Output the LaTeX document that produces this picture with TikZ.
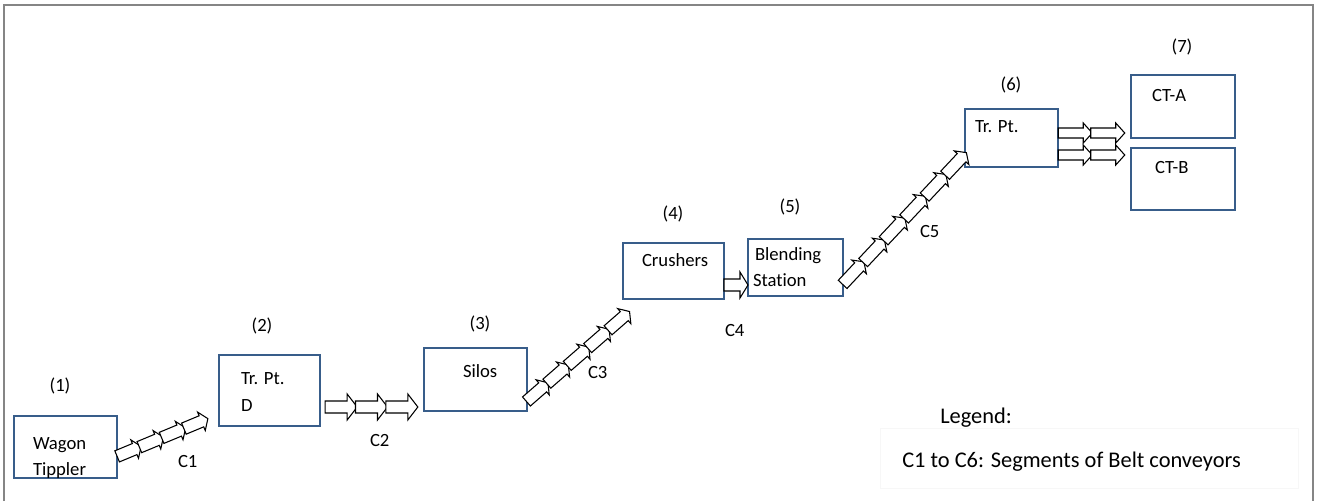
\documentclass[tikz,border=0pt]{standalone}
\usepackage{fontspec}
\setmainfont{Carlito}[Ligatures={NoCommon}]
\usetikzlibrary{calc}
\definecolor{boxblue}{HTML}{385D8A}
\definecolor{framegray}{HTML}{858585}
\begin{document}
\begin{tikzpicture}[x=0.75pt,y=-0.75pt,
  stage/.style={draw=boxblue, line width=1.7pt, rectangle, inner sep=0pt, outer sep=0pt},
  txt/.style={font=\fontsize{14}{16}\selectfont, inner sep=0pt, outer sep=0pt, text=black},
  lbl/.style={txt, anchor=base west},
  num/.style={txt, anchor=center},
  legendtxt/.style={font=\fontsize{16.8}{19}\selectfont, inner sep=0pt, anchor=base west},
  beltline/.style={draw=black, fill=white, line width=0.8pt, line join=miter},
  belt len/.store in=\beltlen, belt shaft/.store in=\beltshaft,
  belt head/.store in=\belthead, belt tip/.store in=\belttip,
  belt len=26, belt shaft=5, belt head=11, belt tip=9,
  belt/.pic={
    \draw[beltline] ({-\beltlen/2},{-\beltshaft}) -- ({\beltlen/2-\belttip},{-\beltshaft})
      -- ({\beltlen/2-\belttip},{-\belthead}) -- ({\beltlen/2},0)
      -- ({\beltlen/2-\belttip},{\belthead}) -- ({\beltlen/2-\belttip},{\beltshaft})
      -- ({-\beltlen/2},{\beltshaft}) -- cycle;
  },
  slant belt/.style={belt shaft=6, belt head=10, belt tip=7}]
\useasboundingbox (0,0) rectangle (1317,501);

% page frame
\draw[framegray, line width=1.6pt] (4,501) -- (4,5) -- (1313,5) -- (1313,501);

% stages
\node[stage, minimum width=103*0.75pt, minimum height=62*0.75pt] (wt)    at (65.5,447)  {};
\node[stage, minimum width=101*0.75pt, minimum height=71*0.75pt] (tp2)   at (269.5,390.5) {};
\node[stage, minimum width=103*0.75pt, minimum height=63*0.75pt] (silos) at (475.5,379.5) {};
\node[stage, minimum width=101*0.75pt, minimum height=56*0.75pt] (crush) at (673.5,271) {};
\node[stage, minimum width=95*0.75pt,  minimum height=57*0.75pt] (blend) at (795.5,267.5) {};
\node[stage, minimum width=93*0.75pt,  minimum height=58*0.75pt] (tp6)   at (1011.5,138) {};
\node[stage, minimum width=104*0.75pt, minimum height=63*0.75pt] (cta)   at (1183,106.5) {};
\node[stage, minimum width=104*0.75pt, minimum height=62*0.75pt] (ctb)   at (1183,179) {};

% stage texts
\node[lbl] (wt1) at (33,449) {Wagon};
\node[lbl] (wt2) at (33,475) {Tippler};
\node[lbl] (tp2a) at (241,384) {Tr. Pt.};
\node[lbl] (tp2b) at (241,411) {D};
\node[lbl] (silost) at (463,377) {Silos};
\node[lbl] (crusht) at (642,266) {Crushers};
\node[lbl] (blend1) at (755,260) {Blending};
\node[lbl] (blend2) at (753,286) {Station};
\node[lbl] (tp6t) at (975,132) {Tr. Pt.};
\node[lbl] (ctat) at (1152,101) {CT-A};
\node[lbl] (ctbt) at (1155,173) {CT-B};

% stage numbers
\node[num] (n1) at (60,386) {(1)};
\node[num] (n2) at (262,326) {(2)};
\node[num] (n3) at (480,324) {(3)};
\node[num] (n4) at (673,214) {(4)};
\node[num] (n5) at (790,207) {(5)};
\node[num] (n6) at (1011,85) {(6)};
\node[num] (n7) at (1182,46.5) {(7)};

% conveyor end points
\coordinate (c1s) at ($(wt.east)+(1,9)$);
\coordinate (c1e) at ($(tp2.west)+(-12,28.5)$);
\coordinate (c2s) at ($(tp2.east)+(6,16.5)$);
\coordinate (c2e) at ($(silos.west)+(-7,27.5)$);
\coordinate (c3s) at ($(silos.east)+(0,21.5)$);
\coordinate (c3e) at ($(crush.west)+(6,41)$);
\coordinate (c4s) at ($(crush.east)+(0,14)$);
\coordinate (c4e) at ($(blend.west)+(0,17.5)$);
\coordinate (c5s) at ($(blend.east)+(0,16.5)$);
\coordinate (c5e) at ($(tp6.west)+(1,15)$);
\coordinate (c6as) at ($(tp6.east)+(1,-5)$);
\coordinate (c6ae) at ($(cta.west)+(-7,26.5)$);
\coordinate (c6bs) at ($(tp6.east)+(1,17)$);
\coordinate (c6be) at ($(ctb.west)+(-7,-24)$);

% belt conveyors as chains of hollow block arrows
\newcommand\beltchain[4]{%
  \path (#1) -- (#2) foreach \k [evaluate=\k as \kp using (\k-0.5)/#3] in {1,...,#3} {
    pic[pos=\kp, sloped, #4] {belt}};}
\beltchain{c1s}{c1e}{4}{slant belt, belt len=26}
\beltchain{c2s}{c2e}{3}{belt len=32, belt shaft=6, belt head=13, belt tip=10}
\beltchain{c3s}{c3e}{5}{slant belt, belt len=28.5}
\beltchain{c4s}{c4e}{1}{belt len=24, belt shaft=6, belt head=13, belt tip=8}
\beltchain{c5s}{c5e}{6}{slant belt, belt len=31}
\beltchain{c6as}{c6ae}{2}{belt len=34, belt shaft=5, belt head=10, belt tip=9}
\beltchain{c6bs}{c6be}{2}{belt len=34, belt shaft=5, belt head=10, belt tip=9}

% conveyor labels
\node[lbl] (l1) at (178,467) {C1};
\node[lbl] (l2) at (370,446) {C2};
\node[lbl] (l3) at (588,378) {C3};
\node[lbl] (l4) at (725,336) {C4};
\node[lbl] (l5) at (920,237) {C5};

% legend
\draw[gray!6, line width=0.6pt] (880,428) rectangle (1298,488);
\node[legendtxt] (lg1) at (940,423) {Legend:};
\node[legendtxt] (lg2) at (902,467) {C1 to C6: Segments of Belt conveyors};
\end{tikzpicture}
\end{document}
